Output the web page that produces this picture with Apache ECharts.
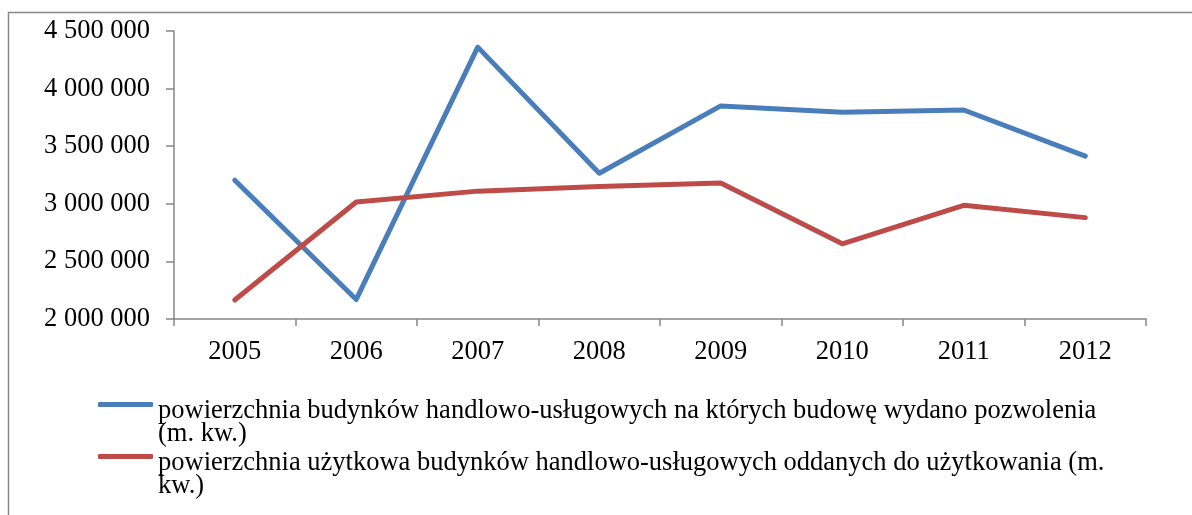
<!DOCTYPE html>
<html>
<head>
<meta charset="utf-8">
<script src="https://cdn.jsdelivr.net/npm/echarts@6/dist/echarts.min.js"></script>
<style>
html,body{margin:0;padding:0;background:#fff;}
#chart{width:1192px;height:515px;}
</style>
</head>
<body>
<div id="chart"></div>
<script>
var categories = ['2005','2006','2007','2008','2009','2010','2011','2012'];
var seriesNames = [
  'powierzchnia budynków handlowo-usługowych na których budowę wydano pozwolenia (m. kw.)',
  'powierzchnia użytkowa budynków handlowo-usługowych oddanych do użytkowania (m. kw.)'
];
var legendLines = [
  ['powierzchnia budynków handlowo-usługowych na których budowę wydano pozwolenia', '(m. kw.)'],
  ['powierzchnia użytkowa budynków handlowo-usługowych oddanych do użytkowania (m.', 'kw.)']
];
var permitsArea = [3205000, 2170000, 4360000, 3265000, 3850000, 3795000, 3814000, 3414000];
var completedArea = [2165000, 3016000, 3110000, 3150000, 3180000, 2653000, 2987000, 2880000];
var yMin = 2000000, yMax = 4500000, yStep = 500000;
var colors = ['#4a7ebb', '#be4b48'];

var chart = echarts.init(document.getElementById('chart'));
var font = 'Liberation Serif';
var fs = 26.5;
function fmt(v){ return String(v).replace(/\B(?=(\d{3})+(?!\d))/g, ' '); }
function legendFmt(name){
  var l = legendLines[seriesNames.indexOf(name)];
  return '{s| }\n{a|' + l[0] + '}\n{a|' + l[1] + '}';
}
function makeLegend(i, top){
  return {
    data: [seriesNames[i]],
    orient: 'vertical', left: 93, top: top,
    itemWidth: 55, itemHeight: 5, itemGap: 4,
    icon: 'roundRect',
    formatter: legendFmt,
    selectedMode: false,
    textStyle: {
      fontFamily: font, fontSize: fs, color: '#000',
      rich: {
        s: {fontSize: 10, lineHeight: 36, fontFamily: font},
        a: {fontFamily: font, fontSize: fs, color: '#000', lineHeight: 23.5}
      }
    }
  };
}
chart.setOption({
  animation: false,
  color: colors,
  graphic: [{
    type: 'rect', silent: true, z: -1,
    shape: {x: 8.5, y: 12.5, width: 1300, height: 700},
    style: {fill: 'none', stroke: '#868686', lineWidth: 1.5}
  }],
  grid: {left: 174, right: 46, top: 31, bottom: 196},
  legend: [makeLegend(0, 371), makeLegend(1, 423)],
  xAxis: {
    type: 'category', data: categories, boundaryGap: true,
    axisLine: {show: true, lineStyle: {color: '#868686', width: 1.5}},
    axisTick: {show: true, length: 7, alignWithLabel: false, lineStyle: {color: '#868686', width: 1.5}},
    axisLabel: {fontFamily: font, fontSize: fs, color: '#000', margin: 20},
    splitLine: {show: false}
  },
  yAxis: {
    type: 'value', min: yMin, max: yMax, interval: yStep,
    axisLine: {show: true, lineStyle: {color: '#868686', width: 1.5}},
    axisTick: {show: true, length: 8, lineStyle: {color: '#868686', width: 1.5}},
    axisLabel: {fontFamily: font, fontSize: fs, color: '#000', margin: 24, formatter: fmt},
    splitLine: {show: false}
  },
  series: [
    {name: seriesNames[0], type: 'line', data: permitsArea, symbol: 'none',
     lineStyle: {width: 5, color: colors[0], cap: 'round', join: 'round'}},
    {name: seriesNames[1], type: 'line', data: completedArea, symbol: 'none',
     lineStyle: {width: 5, color: colors[1], cap: 'round', join: 'round'}}
  ]
});
</script>
</body>
</html>
